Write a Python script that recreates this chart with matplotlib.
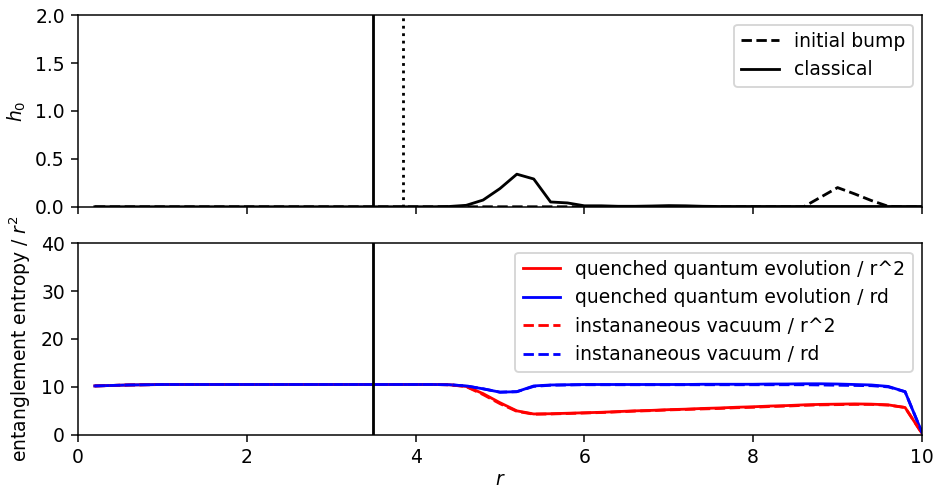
import numpy as np
import matplotlib
matplotlib.use("Agg")
import matplotlib.pyplot as plt

# radial grid
r = np.round(np.arange(1, 51) * 0.2, 1)

# top panel: h_0
initial_bump = [0.0] * 43 + [0.1, 0.2, 0.135, 0.065, 0.005, 0.0, 0.0]
classical = [0.0] * 21 + [0.003, 0.015, 0.07, 0.19, 0.34, 0.29, 0.05, 0.04, 0.01,
                          0.01, 0.005, 0.005, 0.008, 0.012, 0.01, 0.005, 0.003, 0.003, 0.003,
                          0.003, 0.003, 0.003, 0.003, 0.003, 0.003, 0.003, 0.003, 0.003, 0.003]

# bottom panel: entanglement entropy / r^2
flat = [10.2, 10.3, 10.4, 10.45, 10.5, 10.5, 10.5, 10.5, 10.5, 10.5,
        10.5, 10.5, 10.5, 10.5, 10.5, 10.5, 10.5, 10.5, 10.5, 10.5, 10.5]
quench_r2 = flat + [10.45, 10.1, 8.6, 6.7, 5.0, 4.35, 4.4, 4.5, 4.6,
                    4.7, 4.85, 5.0, 5.1, 5.25, 5.35, 5.5, 5.6, 5.75, 5.85,
                    6.0, 6.1, 6.25, 6.35, 6.4, 6.45, 6.4, 6.25, 5.7, 0.3]
quench_rd = flat + [10.45, 10.2, 9.6, 8.9, 9.0, 10.2, 10.4, 10.45, 10.5,
                    10.5, 10.5, 10.5, 10.5, 10.5, 10.5, 10.55, 10.55, 10.55, 10.55,
                    10.6, 10.6, 10.65, 10.65, 10.6, 10.5, 10.4, 10.1, 9.0, 0.5]
vacuum_r2 = flat + [10.45, 10.05, 8.4, 6.5, 4.9, 4.3, 4.35, 4.45, 4.55,
                    4.65, 4.8, 4.95, 5.05, 5.2, 5.3, 5.4, 5.5, 5.65, 5.75,
                    5.9, 6.0, 6.15, 6.25, 6.3, 6.35, 6.35, 6.2, 5.7, 0.3]
vacuum_rd = flat + [10.45, 10.2, 9.6, 8.9, 9.0, 10.1, 10.35, 10.4, 10.45,
                    10.45, 10.45, 10.45, 10.45, 10.45, 10.45, 10.45, 10.45, 10.45, 10.45,
                    10.45, 10.45, 10.45, 10.4, 10.35, 10.3, 10.25, 10.0, 9.0, 0.5]

r_cut = 3.5
r_dot = 3.85

# default matplotlib sizes, rendered at a higher dpi
dpi = 135
fig, (ax1, ax2) = plt.subplots(2, 1, sharex=True, figsize=(936 / dpi, 488 / dpi), dpi=dpi)
fig.subplots_adjust(left=0.0833, right=0.985, top=0.969, bottom=0.109, hspace=0.19)

ax1.plot(r, initial_bump, 'k--', lw=1.5, label='initial bump')
ax1.plot(r, classical, 'k-', lw=1.5, label='classical')
ax1.axvline(r_cut, color='k', lw=1.5)
ax1.axvline(r_dot, color='k', lw=1.5, ls=':')
ax1.set_ylim(0, 2)
ax1.set_yticks([0, 0.5, 1.0, 1.5, 2.0])
ax1.set_ylabel('$h_0$')
ax1.legend(loc='upper right')
ax1.tick_params(labelbottom=False)

ax2.plot(r, quench_r2, 'r-', lw=1.5, label='quenched quantum evolution / r^2')
ax2.plot(r, quench_rd, 'b-', lw=1.5, label='quenched quantum evolution / rd')
ax2.plot(r, vacuum_r2, 'r--', lw=1.5, label='instananeous vacuum / r^2')
ax2.plot(r, vacuum_rd, 'b--', lw=1.5, label='instananeous vacuum / rd')
ax2.axvline(r_cut, color='k', lw=1.5)
ax2.set_ylim(0, 40)
ax2.set_yticks([0, 10, 20, 30, 40])
ax2.set_xlim(0, 10)
ax2.set_xlabel('$r$', labelpad=1.5)
ax2.set_ylabel('entanglement entropy / $r^2$')
ax2.legend(loc='upper right')

fig.savefig('out.png', dpi=dpi)
